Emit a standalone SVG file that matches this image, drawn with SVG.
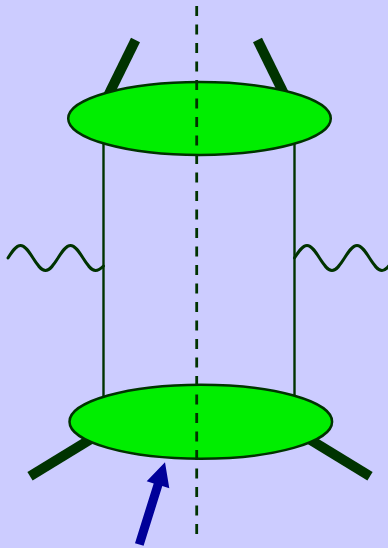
<svg xmlns="http://www.w3.org/2000/svg" width="388" height="548" viewBox="0 0 388 548">
  <style>
    .bar{stroke:#003300;stroke-width:10;fill:none}
    .prop{stroke:#003300;stroke-width:2.4;fill:none}
    .wave{stroke:#003300;stroke-width:3;fill:none;stroke-linecap:round}
    .blob{fill:#00ee00;stroke:#003300;stroke-width:2.5}
    .cut{stroke:#003300;stroke-width:2.8;stroke-dasharray:10 8.5;fill:none}
    .arrow{fill:#000099}
  </style>
  <rect width="388" height="548" fill="#ccccff"/>
  <g id="connectors">
    <line class="bar" x1="135.5" y1="40" x2="104" y2="104"/>
    <line class="bar" x1="257.5" y1="40" x2="289" y2="104"/>
    <line class="bar" x1="30" y1="476.3" x2="100" y2="433.6"/>
    <line class="bar" x1="370" y1="476.3" x2="300" y2="433.6"/>
    <line class="prop" x1="103.5" y1="120" x2="103.5" y2="420"/>
    <line class="prop" x1="294.5" y1="120" x2="294.5" y2="420"/>
    <path class="wave" d="M8,258 C12.08,251.6 15.98,245.5 20.5,245.5 C25.02,245.5 28.92,251.6 33,258 C37.08,264.4 40.98,270.5 45.5,270.5 C50.02,270.5 53.92,264.4 58,258 C62.08,251.6 65.98,245.5 70.5,245.5 C75.02,245.5 78.92,251.6 83,258 C87.08,264.4 90.98,270.5 95.5,270.5 C98.5,270.5 101,268.5 103.5,266"/>
    <path class="wave" d="M294.5,258 C298.58,251.6 302.48,245.5 307,245.5 C311.52,245.5 315.42,251.6 319.5,258 C323.58,264.4 327.48,270.5 332,270.5 C336.52,270.5 340.42,264.4 344.5,258 C348.58,251.6 352.48,245.5 357,245.5 C361.52,245.5 365.42,251.6 369.5,258 C373.58,264.4 377.48,270.5 382,270.5 C386.52,270.5 390.42,264.4 394.5,258"/>
  </g>
  <g id="top-blob">
    <ellipse class="blob" cx="199.5" cy="118.5" rx="131.3" ry="36.5"/>
  </g>
  <g id="bottom-blob">
    <ellipse class="blob" cx="200.8" cy="421.7" rx="131.3" ry="37"/>
  </g>
  <g id="cut-line">
    <line class="cut" x1="196.7" y1="6" x2="196.7" y2="536"/>
  </g>
  <g id="arrow">
    <polygon class="arrow" points="165,462.3 169.3,488.3 162.3,486 143.6,545.8 135,543.2 153.7,483.4 146.7,481.2"/>
  </g>
</svg>
